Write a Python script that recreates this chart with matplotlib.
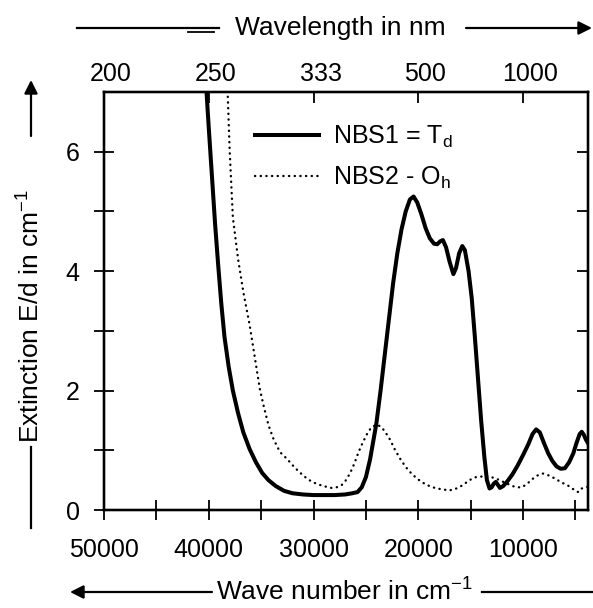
import matplotlib
matplotlib.use("Agg")
import matplotlib.pyplot as plt
from matplotlib.lines import Line2D
from matplotlib.patches import FancyArrowPatch
from matplotlib.transforms import ScaledTranslation

plt.rcParams['font.family'] = ['Liberation Sans', 'DejaVu Sans']
plt.rcParams['mathtext.default'] = 'regular'

# ---------------- data ----------------
nbs1_wn = [40250, 40000, 39700, 39400, 39100, 38800, 38500, 38100, 37700, 37200,
           36700, 36100, 35500, 34900, 34300, 33600, 32800, 32000, 31000, 30000,
           29000, 28000, 27000, 26300, 25800, 25400, 25000, 24600, 24300, 24000,
           23600, 23200, 22800, 22400, 22000, 21600, 21200, 20800, 20450, 20100,
           19700, 19300, 18900, 18500, 18200, 17900, 17650, 17350, 17000, 16650,
           16400, 16100, 15800, 15550, 15200, 14900, 14600, 14300, 14000, 13700,
           13450, 13200, 13000, 12800, 12600, 12400, 12200, 11900, 11500, 11000,
           10500, 10000, 9500, 9100, 8750, 8400, 8000, 7600, 7200, 6800,
           6400, 6000, 5600, 5200, 4900, 4600, 4400, 4200, 4000, 3800]
nbs1_e = [7.1, 6.4, 5.6, 4.8, 4.1, 3.45, 2.9, 2.4, 2.0, 1.62,
          1.3, 1.02, 0.80, 0.62, 0.50, 0.40, 0.32, 0.28, 0.26, 0.25,
          0.25, 0.25, 0.26, 0.28, 0.30, 0.38, 0.55, 0.85, 1.15, 1.45,
          2.0, 2.6, 3.2, 3.8, 4.3, 4.7, 5.0, 5.2, 5.25, 5.15,
          4.95, 4.72, 4.55, 4.46, 4.45, 4.5, 4.52, 4.4, 4.15, 3.95,
          4.05, 4.3, 4.42, 4.35, 4.0, 3.55, 2.9, 2.2, 1.5, 0.9,
          0.5, 0.36, 0.38, 0.44, 0.47, 0.42, 0.37, 0.40, 0.48, 0.60,
          0.75, 0.92, 1.1, 1.27, 1.35, 1.3, 1.12, 0.95, 0.82, 0.73,
          0.69, 0.70, 0.80, 0.95, 1.12, 1.27, 1.31, 1.26, 1.18, 1.12]

nbs2_wn = [38300, 38200, 38000, 37700, 37200, 36700, 36100, 35600, 35100, 34700,
           34300, 33800, 33200, 32500, 32000, 31500, 31000, 30500, 30000, 29400,
           28800, 28300, 27800, 27300, 26900, 26500, 26100, 25700, 25300, 24900,
           24500, 24000, 23600, 23200, 22700, 22200, 21700, 21200, 20600, 20000,
           19400, 18800, 18200, 17500, 17000, 16500, 16000, 15500, 15000, 14500,
           14000, 13500, 13000, 12500, 12000, 11500, 11000, 10500, 10100, 9600,
           9100, 8600, 8100, 7700, 7200, 6700, 6200, 5800, 5300, 4900,
           4700, 4400, 4100, 3800]
nbs2_e = [7.3, 7.0, 6.0, 4.9, 4.2, 3.65, 3.1, 2.55, 2.0, 1.7,
          1.42, 1.18, 0.97, 0.85, 0.75, 0.66, 0.58, 0.51, 0.46, 0.42,
          0.39, 0.37, 0.38, 0.42, 0.50, 0.62, 0.78, 0.97, 1.13, 1.27,
          1.38, 1.43, 1.40, 1.32, 1.18, 1.0, 0.85, 0.72, 0.60, 0.51,
          0.44, 0.39, 0.36, 0.34, 0.33, 0.35, 0.39, 0.45, 0.51, 0.55,
          0.56, 0.56, 0.55, 0.52, 0.48, 0.44, 0.40, 0.38, 0.38, 0.44,
          0.52, 0.58, 0.61, 0.59, 0.55, 0.50, 0.45, 0.42, 0.36, 0.31,
          0.30, 0.36, 0.38, 0.39]

bottom_major = [50000, 40000, 30000, 20000, 10000]
bottom_minor = [45000, 35000, 25000, 15000, 5000]
top_wn = [50000, 40000, 30000, 20000, 10000]
top_labels = ['200', '250', '333', '500', '1000']
y_major = [0, 2, 4, 6]
y_minor = [1, 3, 5]
right_ticks = [1, 2, 3, 4, 5, 6]

W, H = 593, 608
def fx(px):
    return px / W
def fy(py):
    return 1 - py / H

fig = plt.figure(figsize=(W / 100, H / 100), dpi=100)
ax = fig.add_axes([fx(104), fy(510), (588 - 104) / W, (510 - 92) / H])

ax.plot(nbs1_wn, nbs1_e, color='black', lw=2.9, solid_joinstyle='round',
        label='NBS1 = T$_{d}$')
ax.plot(nbs2_wn, nbs2_e, color='black', lw=1.7, linestyle=(0, (0.1, 2.3)),
        dash_capstyle='round', label='NBS2 - O$_{h}$')

ax.set_xlim(50000, 3800)
ax.set_ylim(0, 7)

ax.set_xticks(bottom_major)
ax.set_xticks(bottom_minor, minor=True)
ax.set_xticklabels([str(v) for v in bottom_major])
ax.set_yticks(y_major)
ax.set_yticks(y_minor, minor=True)
ax.set_yticklabels([str(v) for v in y_major])
ax.tick_params(axis='x', which='both', direction='inout', length=15, width=1.3,
               labelsize=18, pad=13)
ax.tick_params(axis='y', which='both', direction='inout', length=15, width=1.3,
               labelsize=18, pad=10, right=False)
for s in ax.spines.values():
    s.set_linewidth(1.6)

# right ticks (inward)
axr = ax.twinx()
axr.set_ylim(0, 7)
axr.set_yticks(right_ticks)
axr.tick_params(axis='y', direction='in', length=8, width=1.3, labelright=False)
for s in axr.spines.values():
    s.set_linewidth(1.6)

# top wavelength axis
axt = ax.twiny()
axt.set_xlim(ax.get_xlim())
axt.set_xticks(top_wn)
axt.set_xticklabels(top_labels)
axt.tick_params(axis='x', direction='in', length=8, width=1.3, labelsize=18, pad=4)
for s in axt.spines.values():
    s.set_linewidth(1.6)
shift = ScaledTranslation(7 / 100, 0, fig.dpi_scale_trans)
for lab in axt.get_xticklabels():
    lab.set_transform(lab.get_transform() + shift)

leg = ax.legend(loc='upper left', bbox_to_anchor=(0.312, 0.925), frameon=False,
                fontsize=18, handlelength=2.55, handletextpad=0.55,
                labelspacing=0.6, borderpad=0, borderaxespad=0)

# outer labels
fig.text(fx(340), fy(28), 'Wavelength in nm', ha='center', va='center', fontsize=19)
fig.text(fx(344), fy(592), 'Wave number in cm$^{-1}$', ha='center', va='center', fontsize=19)
fig.text(fx(31), fy(316), 'Extinction E/d in cm$^{-1}$', ha='center', va='center',
         fontsize=19, rotation=90)

def seg(p0, p1, lw=1.6):
    fig.add_artist(Line2D([fx(p0[0]), fx(p1[0])], [fy(p0[1]), fy(p1[1])],
                          transform=fig.transFigure, color='black', lw=lw))

def arrow(p0, p1):
    fig.add_artist(FancyArrowPatch((fx(p0[0]), fy(p0[1])), (fx(p1[0]), fy(p1[1])),
                                   transform=fig.transFigure, arrowstyle='-|>',
                                   mutation_scale=20, lw=1.6, color='black',
                                   shrinkA=0, shrinkB=0))

# top arrows
seg((77, 28), (219, 28))
seg((188, 32), (214, 32), lw=1.3)
arrow((466, 28), (592, 28))
# bottom arrows
arrow((212, 592), (70, 592))
seg((482, 592), (593, 592))
# left arrows
arrow((31, 136), (31, 80))
seg((31, 447), (31, 528))

fig.savefig('out.png', dpi=100)
